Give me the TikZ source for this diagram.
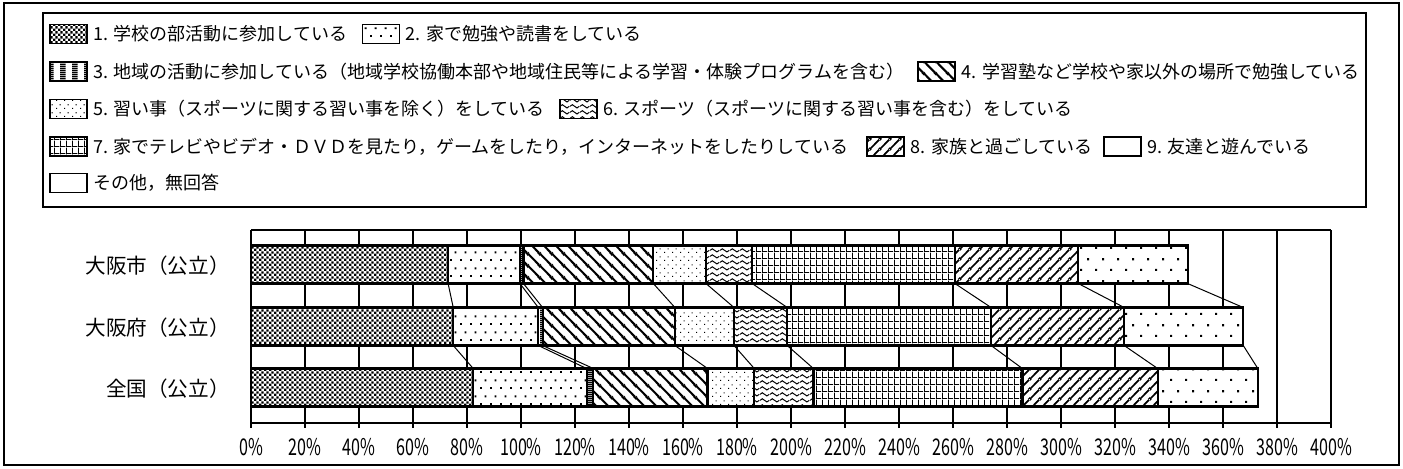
\documentclass[tikz,border=0pt]{standalone}
\usepackage{fontspec}
\setmainfont{Noto Sans CJK JP}
\newfontfamily\tickfont[FakeStretch=0.7]{Noto Sans CJK JP}
\usepackage{tikz}
\usetikzlibrary{patterns.meta, positioning}

% fill patterns of the nine answers
\tikzdeclarepattern{name=clubcheck, type=uncolored,
  bottom left={(0pt,0pt)}, top right={(2.4pt,2.4pt)}, tile size={(2.4pt,2.4pt)},
  code={\fill (0pt,0pt) rectangle (1.2pt,1.2pt); \fill (1.2pt,1.2pt) rectangle (2.4pt,2.4pt);}}
\tikzdeclarepattern{name=homedots, type=uncolored,
  bottom left={(0pt,0pt)}, top right={(5pt,8pt)}, tile size={(5pt,8pt)},
  code={\fill (0pt,0pt) rectangle (1pt,1pt); \fill (2.5pt,4pt) rectangle (3.5pt,5pt);}}
\tikzdeclarepattern{name=communitystripes, type=uncolored,
  bottom left={(0pt,0pt)}, top right={(6pt,1pt)}, tile size={(6pt,1pt)},
  code={\fill (0pt,0pt) rectangle (3pt,1pt);}}
\tikzdeclarepattern{name=jukulines, type=uncolored,
  bottom left={(0pt,0pt)}, top right={(6pt,6pt)}, tile size={(6pt,6pt)},
  code={\draw[line width=1.1pt] (0pt,6pt) -- (6pt,0pt) (-1pt,1pt) -- (1pt,-1pt) (5pt,7pt) -- (7pt,5pt);}}
\tikzdeclarepattern{name=lessondots, type=uncolored,
  bottom left={(0pt,0pt)}, top right={(4pt,4pt)}, tile size={(4pt,4pt)},
  code={\fill (0pt,0pt) rectangle (0.6pt,0.6pt); \fill (2pt,2pt) rectangle (2.6pt,2.6pt);}}
\tikzdeclarepattern{name=sportwaves, type=uncolored,
  bottom left={(0pt,0pt)}, top right={(5pt,3pt)}, tile size={(5pt,3pt)},
  code={\draw[line width=0.55pt] (0pt,1.5pt) sin (1.25pt,2.4pt) cos (2.5pt,1.5pt) sin (3.75pt,0.6pt) cos (5pt,1.5pt);}}
\tikzdeclarepattern{name=tvgrid, type=uncolored,
  bottom left={(0pt,0pt)}, top right={(3pt,3.5pt)}, tile size={(3pt,3.5pt)},
  code={\draw[line width=0.5pt] (0.25pt,0pt) -- (0.25pt,3.5pt) (0pt,0.25pt) -- (3pt,0.25pt);}}
\tikzdeclarepattern{name=familylines, type=uncolored,
  bottom left={(0pt,0pt)}, top right={(5pt,5pt)}, tile size={(5pt,5pt)},
  code={\draw[line width=0.9pt] (0pt,0pt) -- (5pt,5pt) (-1pt,4pt) -- (1pt,6pt) (4pt,-1pt) -- (6pt,1pt);}}
\tikzdeclarepattern{name=frienddots, type=uncolored,
  bottom left={(0pt,0pt)}, top right={(7.5pt,11pt)}, tile size={(7.5pt,11pt)},
  code={\fill (0pt,0pt) rectangle (1.1pt,1.1pt); \fill (3.75pt,5.5pt) rectangle (4.85pt,6.6pt);}}

\tikzset{
  frameline/.style={draw, line width=0.7pt},
  legendbox/.style={draw, line width=1.4pt},
  swatch/.style={draw, line width=0.9pt, minimum width=18.5pt, minimum height=9.5pt,
    inner sep=0pt, preaction={fill=white}},
  legtext/.style={inner sep=0pt, font=\fontsize{9}{10}\selectfont},
  catlabel/.style={anchor=east, inner sep=0pt, font=\fontsize{10.3}{12}\selectfont},
  ticklabel/.style={inner sep=0pt, font=\tickfont\fontsize{11.5}{13}\selectfont},
  gridline/.style={line width=0.8pt},
  seg/.style={draw, line width=1.1pt, preaction={fill=white}},
  seriesline/.style={line width=0.5pt}
}

% segment ends, in percent
\def\bndcity{{0,73.0,99.6,100.9,149.0,168.5,185.6,260.7,306.4,346.9}}
\def\bndpref{{0,74.9,106.4,108.0,157.0,178.9,198.6,274.1,323.4,367.5}}
\def\bndnation{{0,82.3,124.3,126.8,169.1,186.4,208.3,285.7,335.8,372.9}}

\begin{document}
\begin{tikzpicture}[x=0.5pt, y=-0.5pt]

  \useasboundingbox (0,0) rectangle (1403,468);
  \draw[frameline] (4,3) rectangle (1399,465);
  \draw[legendbox] (43,13) rectangle (1366,207);

  % legend
  \node[swatch, pattern=clubcheck] (sw1) at (68.5,34) {};
  \node[legtext, right=2.5pt of sw1] (lt1) {1. 学校の部活動に参加している};
  \node[swatch, pattern=homedots, right=7pt of lt1] (sw2) {};
  \node[legtext, right=2.5pt of sw2] (lt2) {2. 家で勉強や読書をしている};

  \node[swatch, pattern=communitystripes] (sw3) at (68.5,71.5) {};
  \node[legtext, right=2.5pt of sw3] (lt3) {3. 地域の活動に参加している（地域学校協働本部や地域住民等による学習・体験プログラムを含む）};
  \node[swatch, pattern=jukulines, right=6.5pt of lt3] (sw4) {};
  \node[legtext, right=2.5pt of sw4] (lt4) {4. 学習塾など学校や家以外の場所で勉強している};

  \node[swatch, pattern=lessondots] (sw5) at (68.5,109) {};
  \node[legtext, right=2.5pt of sw5] (lt5) {5. 習い事（スポーツに関する習い事を除く）をしている};
  \node[swatch, pattern=sportwaves, right=7pt of lt5] (sw6) {};
  \node[legtext, right=2.5pt of sw6] (lt6) {6. スポーツ（スポーツに関する習い事を含む）をしている};

  \node[swatch, pattern=tvgrid] (sw7) at (68.5,146.5) {};
  \node[legtext, right=2.5pt of sw7] (lt7) {7. 家でテレビやビデオ・ＤＶＤを見たり，ゲームをしたり，インターネットをしたりしている};
  \node[swatch, pattern=familylines, right=9pt of lt7] (sw8) {};
  \node[legtext, right=2.5pt of sw8] (lt8) {8. 家族と過ごしている};
  \node[swatch, right=5pt of lt8] (sw9) {};
  \node[legtext, right=2.5pt of sw9] (lt9) {9. 友達と遊んでいる};

  \node[swatch] (sw10) at (68.5,183) {};
  \node[legtext, right=2.5pt of sw10] (lt10) {その他，無回答};

  % categories
  \node[catlabel] (city) at (230,266) {大阪市（公立）};
  \node[catlabel] (pref) at (230,328) {大阪府（公立）};
  \node[catlabel] (nation) at (230,389) {全国（公立）};

  % plot, x in percent
  \begin{scope}[shift={(251,0)}, x=1.35pt]
    \foreach \p in {0,20,...,400} {
      \draw[gridline] (\p,230) -- (\p,428);
      \node[ticklabel] (tick\p) at (\p,447) {\p\%};
    }
    \draw[gridline] (0,230) -- (400,230);
    \draw[gridline] (0,423) -- (400,423);

    \foreach \r/\yc/\bnd in {1/264.5/\bndcity, 2/326.5/\bndpref, 3/387.5/\bndnation} {
      \foreach \pat [count=\i] in {clubcheck,homedots,communitystripes,jukulines,lessondots,sportwaves,tvgrid,familylines,frienddots} {
        \pgfmathsetmacro\va{\bnd[\i-1]}
        \pgfmathsetmacro\vb{\bnd[\i]}
        \draw[seg, pattern=\pat] (\va,\yc-19) rectangle (\vb,\yc+19);
        \coordinate (r\r t\i) at (\vb,\yc-19);
        \coordinate (r\r b\i) at (\vb,\yc+19);
      }
    }
    \foreach \i in {1,...,9} {
      \draw[seriesline] (r1b\i) -- (r2t\i);
      \draw[seriesline] (r2b\i) -- (r3t\i);
    }
  \end{scope}

\end{tikzpicture}
\end{document}
